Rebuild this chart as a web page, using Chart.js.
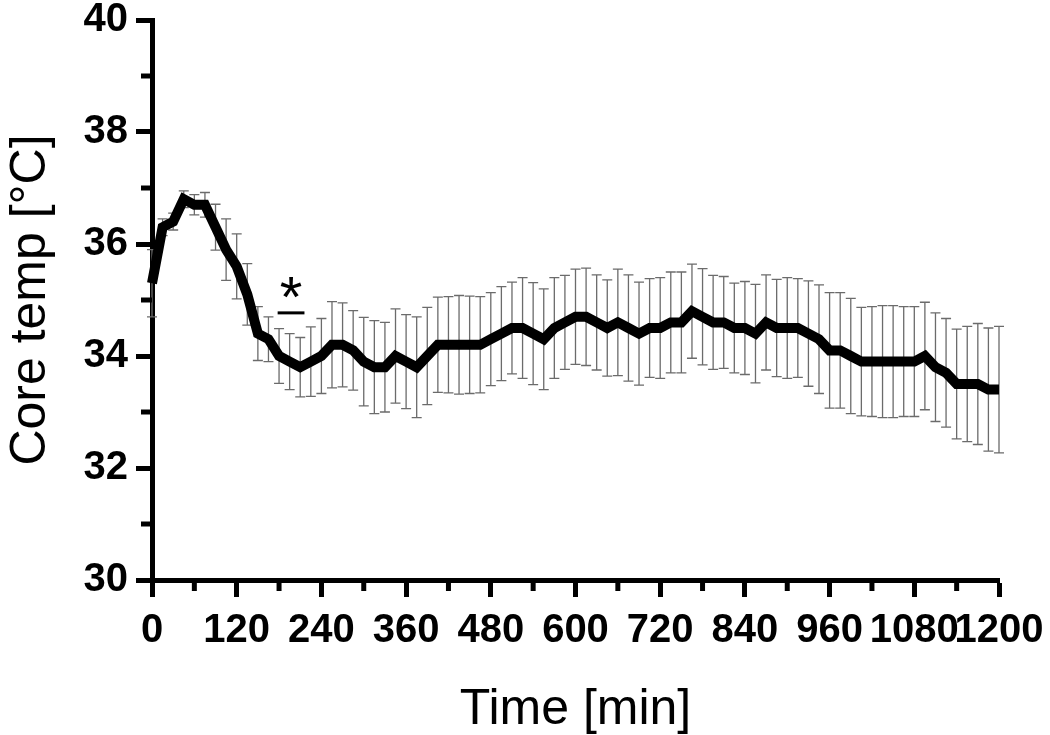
<!DOCTYPE html>
<html>
<head>
<meta charset="utf-8">
<script src="https://cdn.jsdelivr.net/npm/chart.js@4.4.1/dist/chart.umd.min.js"></script>
<style>
  html, body { margin: 0; padding: 0; background: #fff; }
  #wrap { width: 1050px; height: 735px; position: relative; }
</style>
</head>
<body>
<div id="wrap"><canvas id="tempChart"></canvas></div>
<script>
// time points (min), sampled every 15 min
const times = [0, 15, 30, 45, 60, 75, 90, 105, 120, 135, 150, 165, 180, 195, 210, 225, 240,
    255, 270, 285, 300, 315, 330, 345, 360, 375, 390, 405, 420, 435, 450, 465, 480,
    495, 510, 525, 540, 555, 570, 585, 600, 615, 630, 645, 660, 675, 690, 705, 720,
    735, 750, 765, 780, 795, 810, 825, 840, 855, 870, 885, 900, 915, 930, 945, 960,
    975, 990, 1005, 1020, 1035, 1050, 1065, 1080, 1095, 1110, 1125, 1140, 1155, 1170, 1185, 1200];

// mean core temperature (°C)
const coreTemp = [35.3, 36.3, 36.4, 36.8, 36.7, 36.7, 36.3, 35.9, 35.6, 35.1, 34.4, 34.3, 34.0, 33.9, 33.8, 33.9, 34.0,
    34.2, 34.2, 34.1, 33.9, 33.8, 33.8, 34.0, 33.9, 33.8, 34.0, 34.2, 34.2, 34.2, 34.2, 34.2, 34.3,
    34.4, 34.5, 34.5, 34.4, 34.3, 34.5, 34.6, 34.7, 34.7, 34.6, 34.5, 34.6, 34.5, 34.4, 34.5, 34.5,
    34.6, 34.6, 34.8, 34.7, 34.6, 34.6, 34.5, 34.5, 34.4, 34.6, 34.5, 34.5, 34.5, 34.4, 34.3, 34.1,
    34.1, 34.0, 33.9, 33.9, 33.9, 33.9, 33.9, 33.9, 34.0, 33.8, 33.7, 33.5, 33.5, 33.5, 33.4, 33.4];

// error (+/-) for each point
const tempErr = [0.6, 0.15, 0.15, 0.15, 0.18, 0.22, 0.41, 0.55, 0.58, 0.55, 0.48, 0.4, 0.49, 0.5, 0.53, 0.62, 0.67,
    0.77, 0.75, 0.71, 0.79, 0.83, 0.8, 0.84, 0.84, 0.9, 0.87, 0.85, 0.86, 0.88, 0.87, 0.86, 0.83,
    0.84, 0.82, 0.9, 0.91, 0.9, 0.9, 0.84, 0.85, 0.87, 0.85, 0.86, 0.95, 0.95, 0.92, 0.88, 0.9,
    0.9, 0.9, 0.84, 0.86, 0.84, 0.82, 0.8, 0.83, 0.88, 0.85, 0.87, 0.9, 0.88, 0.94, 0.97, 1.03,
    1.03, 1.03, 0.97, 0.98, 1.0, 1.0, 0.98, 0.98, 0.96, 0.97, 0.97, 0.98, 1.03, 1.08, 1.1, 1.13];

// axis ticks
const xMinorTicks = [60, 180, 300, 420, 540, 660, 780, 900, 1020, 1140];
const yMinorTicks = [31, 33, 35, 37, 39];

// significance marker (bar from..to at height, star above)
const sigBar = [178, 216];
const sigBarY = 34.77;

const tickFont = { family: "'Liberation Sans', Arial, sans-serif", size: 40, weight: 'bold', lineHeight: 1 };
const titleFont = { family: "'Liberation Sans', Arial, sans-serif", size: 50, lineHeight: 1 };

// error bars, drawn under the line
const errorBarPlugin = {
    id: 'errorBars',
    beforeDatasetsDraw(chart) {
        const { ctx, scales: { x, y } } = chart;
        ctx.save();
        ctx.strokeStyle = '#6b6b6b';
        ctx.lineWidth = 1.3;
        times.forEach((t, i) => {
            const px = x.getPixelForValue(t);
            const top = y.getPixelForValue(coreTemp[i] + tempErr[i]);
            const bot = y.getPixelForValue(coreTemp[i] - tempErr[i]);
            ctx.beginPath();
            ctx.moveTo(px, top); ctx.lineTo(px, bot);
            ctx.moveTo(px - 5, top); ctx.lineTo(px + 5, top);
            ctx.moveTo(px - 5, bot); ctx.lineTo(px + 5, bot);
            ctx.stroke();
        });
        ctx.restore();
    },
    afterDraw(chart) {
        const { ctx, chartArea, scales: { x, y } } = chart;
        ctx.save();
        ctx.strokeStyle = '#000';
        ctx.lineWidth = 5;
        // minor ticks
        xMinorTicks.forEach(t => {
            const px = x.getPixelForValue(t);
            ctx.beginPath();
            ctx.moveTo(px, chartArea.bottom);
            ctx.lineTo(px, chartArea.bottom + 11);
            ctx.stroke();
        });
        yMinorTicks.forEach(v => {
            const py = y.getPixelForValue(v);
            ctx.beginPath();
            ctx.moveTo(chartArea.left, py);
            ctx.lineTo(chartArea.left - 11, py);
            ctx.stroke();
        });
        // significance bar + star
        ctx.lineWidth = 3;
        const by = y.getPixelForValue(sigBarY);
        ctx.beginPath();
        ctx.moveTo(x.getPixelForValue(sigBar[0]), by);
        ctx.lineTo(x.getPixelForValue(sigBar[1]), by);
        ctx.stroke();
        ctx.fillStyle = '#000';
        ctx.font = "58px 'Liberation Sans', Arial, sans-serif";
        ctx.textAlign = 'center';
        ctx.textBaseline = 'alphabetic';
        ctx.fillText('*', x.getPixelForValue((sigBar[0] + sigBar[1]) / 2), by + 4);
        ctx.restore();
    }
};

const ctx = document.getElementById('tempChart').getContext('2d');
const tempChart = new Chart(ctx, {
    type: 'line',
    data: {
        datasets: [{
            label: 'Core temp',
            data: times.map((t, i) => ({ x: t, y: coreTemp[i] })),
            borderColor: '#000',
            borderWidth: 10,
            pointRadius: 0,
            tension: 0,
            clip: 10
        }]
    },
    options: {
        responsive: true,
        maintainAspectRatio: false,
        animation: false,
        devicePixelRatio: 1,
        layout: { padding: { top: 20, right: 51, left: 0, bottom: 0 } },
        plugins: {
            legend: { display: false },
            tooltip: { enabled: false }
        },
        scales: {
            x: {
                type: 'linear',
                min: 0,
                max: 1200,
                afterFit(scale) {
                    scale.height = 155;
                    scale.paddingLeft = 0;
                    scale.paddingRight = 0;
                },
                border: { color: '#000', width: 5 },
                grid: { drawOnChartArea: false, tickLength: 17, tickWidth: 5, tickColor: '#000' },
                ticks: {
                    stepSize: 120,
                    autoSkip: false,
                    maxRotation: 0,
                    minRotation: 0,
                    padding: 14,
                    color: '#000',
                    font: tickFont,
                    callback: (v) => String(v)
                },
                title: {
                    display: true,
                    text: 'Time [min]',
                    color: '#000',
                    font: titleFont,
                    padding: { top: 0, bottom: 0 }
                }
            },
            y: {
                min: 30,
                max: 40,
                afterFit(scale) {
                    scale.width = 152;
                    scale.paddingTop = 0;
                    scale.paddingBottom = 0;
                },
                border: { color: '#000', width: 5 },
                grid: { drawOnChartArea: false, tickLength: 16, tickWidth: 5, tickColor: '#000' },
                ticks: {
                    stepSize: 2,
                    padding: 8,
                    color: '#000',
                    font: tickFont,
                    callback: (v) => String(v)
                },
                title: {
                    display: true,
                    text: 'Core temp [°C]',
                    color: '#000',
                    font: titleFont,
                    padding: { top: 6, bottom: 0 }
                }
            }
        }
    },
    plugins: [errorBarPlugin]
});
</script>
</body>
</html>
